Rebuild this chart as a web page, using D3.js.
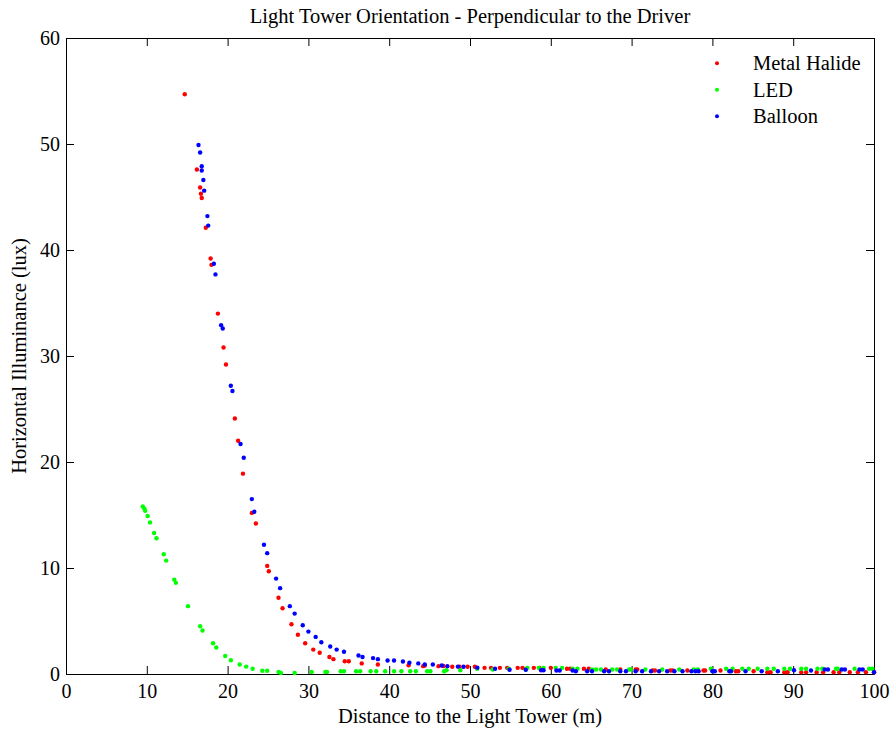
<!DOCTYPE html>
<html>
<head>
<meta charset="utf-8">
<script src="https://cdn.jsdelivr.net/npm/d3@7"></script>
<style>
  body { margin: 0; background: #fff; }
  text { font-family: "Liberation Serif", "Times New Roman", serif; fill: #000; }
</style>
</head>
<body>
<svg width="895" height="731"></svg>
<script>
// Metal Halide
var mhDistance = [14.7,16.2,16.6,16.7,16.8,17.3,17.9,18.0,18.8,19.5,19.8,20.9,21.3,21.9,23.0,23.5,24.9,25.1,26.3,26.8,27.9,28.7,29.6,30.6,31.4,32.6,33.1,34.5,35.0,36.6,38.6,42.4,44.2,44.4,46.1,46.7,47.8,48.7,49.7,50.6,51.8,52.6,53.7,54.6,55.9,56.5,57.9,58.6,60.0,62.0,62.4,64.1,64.7,66.8,68.6,70.5,70.7,72.6,72.9,74.8,75.1,76.9,78.9,79.1,81.0,82.9,83.2,85.1,86.8,87.2,88.9,89.3,91.0,91.6,92.9,93.7,95.0,95.7,97.0,98.0,99.0,100.0];
var mhLux = [54.7,47.6,45.9,45.3,44.9,42.1,39.2,38.6,34.0,30.8,29.2,24.1,22.0,18.9,15.2,14.2,10.2,9.7,7.2,6.2,4.7,3.7,2.9,2.3,2.0,1.6,1.4,1.2,1.2,1.0,0.9,0.83,0.74,0.8,0.74,0.76,0.68,0.68,0.68,0.68,0.58,0.58,0.58,0.58,0.58,0.58,0.58,0.58,0.58,0.49,0.49,0.49,0.49,0.42,0.42,0.42,0.42,0.33,0.33,0.33,0.33,0.33,0.33,0.33,0.33,0.26,0.26,0.26,0.17,0.17,0.17,0.17,0.17,0.17,0.17,0.17,0.17,0.17,0.17,0.17,0.17,0.17];

// LED
var ledDistance = [9.5,9.7,9.8,10.1,10.4,10.9,11.2,12.1,12.4,13.4,13.6,15.1,16.6,16.9,18.2,18.6,19.7,20.4,21.5,22.3,23.1,24.3,24.9,26.3,26.6,28.3,30.4,32.1,32.3,34.0,34.4,35.9,36.4,37.7,38.4,39.5,40.6,41.5,42.6,43.3,44.7,45.1,46.8,47.1,48.8,50.9,52.8,54.8,56.9,57.1,58.5,59.1,60.6,61.4,62.7,63.3,65.1,65.6,66.2,67.6,68.2,69.7,69.9,71.7,73.8,75.9,77.7,78.2,79.8,81.7,82.5,83.7,84.5,85.6,86.8,87.6,88.9,89.6,91.0,91.6,93.0,93.6,95.3,95.5,97.6,99.4,99.8];
var ledLux = [15.8,15.6,15.4,14.9,14.3,13.3,12.8,11.3,10.7,8.9,8.6,6.4,4.5,4.1,2.9,2.5,1.7,1.3,0.9,0.7,0.5,0.3,0.3,0.2,0.1,0.1,0.2,0.2,0.2,0.26,0.26,0.26,0.26,0.26,0.26,0.26,0.26,0.26,0.26,0.26,0.26,0.26,0.26,0.36,0.36,0.49,0.42,0.49,0.42,0.58,0.58,0.58,0.58,0.58,0.49,0.49,0.42,0.42,0.42,0.42,0.42,0.42,0.42,0.42,0.42,0.42,0.42,0.42,0.49,0.49,0.49,0.49,0.49,0.49,0.49,0.49,0.49,0.49,0.49,0.49,0.49,0.49,0.49,0.49,0.49,0.49,0.49];

// Balloon
var balloonDistance = [16.4,16.6,16.8,16.8,17.0,17.1,17.5,17.6,18.3,18.5,19.2,19.4,20.4,20.6,21.6,22.0,23.0,23.3,24.5,24.9,26.0,26.5,27.7,28.3,29.3,30.0,30.9,31.6,32.7,33.5,34.4,36.2,36.7,38.0,38.6,39.8,40.6,41.7,42.5,43.6,44.4,45.4,46.5,47.2,48.5,49.2,50.9,53.1,54.9,56.9,58.8,59.1,60.7,61.1,62.7,63.1,64.5,65.1,66.6,67.2,68.6,69.3,70.5,71.3,72.4,73.4,74.4,75.3,76.3,77.4,77.9,78.3,80.0,80.3,82.1,82.3,84.1,86.1,88.1,90.1,92.2,93.9,94.3,96.0,96.4,98.2,98.6,100.0];
var balloonLux = [49.9,49.2,47.9,47.5,46.6,45.6,43.2,42.3,38.7,37.7,32.9,32.6,27.2,26.7,21.7,20.4,16.5,15.3,12.2,11.4,9.0,8.1,6.4,5.7,4.6,4.0,3.5,3.0,2.6,2.3,2.1,1.75,1.6,1.5,1.4,1.27,1.27,1.18,1.06,1.0,0.9,0.9,0.8,0.74,0.7,0.68,0.6,0.5,0.4,0.4,0.36,0.36,0.33,0.33,0.33,0.26,0.26,0.26,0.26,0.26,0.26,0.26,0.26,0.26,0.26,0.26,0.26,0.26,0.26,0.26,0.26,0.26,0.26,0.26,0.26,0.26,0.26,0.26,0.26,0.36,0.33,0.42,0.42,0.42,0.42,0.42,0.42,0.17];

var seriesNames = ["Metal Halide", "LED", "Balloon"];
var seriesColors = ["#ff0000", "#00ff00", "#0000ff"];
var xTicks = [0,10,20,30,40,50,60,70,80,90,100];
var yTicks = [0,10,20,30,40,50,60];

var series = [
  {name: seriesNames[0], color: seriesColors[0], xs: mhDistance, ys: mhLux},
  {name: seriesNames[1], color: seriesColors[1], xs: ledDistance, ys: ledLux},
  {name: seriesNames[2], color: seriesColors[2], xs: balloonDistance, ys: balloonLux}
];

var margin = {top: 38, right: 21, bottom: 57, left: 66};
var width = 895 - margin.left - margin.right;
var height = 731 - margin.top - margin.bottom;

var svg = d3.select("svg")
  .append("g")
  .attr("transform", "translate(" + margin.left + "," + margin.top + ")");

var x = d3.scaleLinear().domain([0, 100]).range([0, width]);
var y = d3.scaleLinear().domain([0, 60]).range([height, 0]);

// axes (ticks pointing inward, mirrored on top/right)
var tickLen = 8;
svg.append("g")
  .attr("class", "axis")
  .attr("transform", "translate(0," + height + ")")
  .call(d3.axisBottom(x).tickValues(xTicks).tickSizeInner(-tickLen).tickSizeOuter(0).tickPadding(10));
svg.append("g")
  .attr("class", "axis")
  .call(d3.axisLeft(y).tickValues(yTicks).tickSizeInner(-tickLen).tickSizeOuter(0).tickPadding(6));
svg.append("g")
  .attr("class", "axis")
  .call(d3.axisTop(x).tickValues(xTicks).tickSizeInner(-tickLen).tickSizeOuter(0).tickFormat(""));
svg.append("g")
  .attr("class", "axis")
  .attr("transform", "translate(" + width + ",0)")
  .call(d3.axisRight(y).tickValues(yTicks).tickSizeInner(-tickLen).tickSizeOuter(0).tickFormat(""));

svg.selectAll(".axis text")
  .style("font-family", "'Liberation Serif', serif")
  .style("font-size", "20px");
svg.selectAll(".axis path, .axis line").attr("stroke", "#000");

// points
series.forEach(function(s) {
  svg.append("g")
    .selectAll("circle")
    .data(s.xs.map(function(d, i) { return [d, s.ys[i]]; }))
    .enter()
    .append("circle")
      .attr("cx", function(d) { return x(d[0]); })
      .attr("cy", function(d) { return y(d[1]); })
      .attr("r", 2.2)
      .attr("fill", s.color);
});

// legend
var legend = svg.append("g")
  .attr("transform", "translate(" + (width - 157) + ",25.3)");
series.forEach(function(s, i) {
  legend.append("circle")
    .attr("cx", 0)
    .attr("cy", i * 26.5)
    .attr("r", 2)
    .attr("fill", s.color);
  legend.append("text")
    .attr("x", 36)
    .attr("y", i * 26.5)
    .attr("dy", "0.35em")
    .style("font-size", "20.5px")
    .text(s.name);
});

// title and labels
svg.append("text")
  .attr("x", width / 2)
  .attr("y", -15)
  .style("text-anchor", "middle")
  .style("font-size", "20.5px")
  .text("Light Tower Orientation - Perpendicular to the Driver");

svg.append("text")
  .attr("x", width / 2)
  .attr("y", height + 49)
  .style("text-anchor", "middle")
  .style("font-size", "20.5px")
  .text("Distance to the Light Tower (m)");

svg.append("text")
  .attr("transform", "rotate(-90)")
  .attr("x", -(356 - margin.top))
  .attr("y", -40)
  .style("text-anchor", "middle")
  .style("font-size", "20.5px")
  .text("Horizontal Illuminance (lux)");
</script>
</body>
</html>
